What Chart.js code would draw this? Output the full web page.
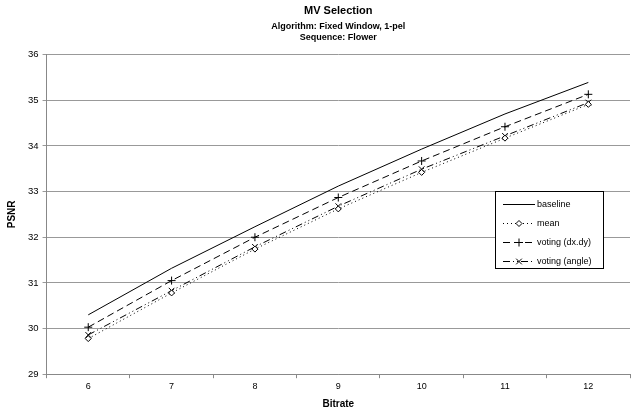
<!DOCTYPE html>
<html>
<head>
<meta charset="utf-8">
<script src="https://cdn.jsdelivr.net/npm/chart.js@4/dist/chart.umd.min.js"></script>
<style>
  body { margin: 0; background: #fff; }
  canvas { display: block; }
</style>
</head>
<body>
<canvas id="myChart" width="636" height="417"></canvas>
<script>
// data
const bitrates = ["6", "7", "8", "9", "10", "11", "12"];
const baseline = [30.3, 31.32, 32.23, 33.12, 33.93, 34.7, 35.39];
const meanVals = [29.78, 30.78, 31.74, 32.62, 33.42, 34.17, 34.91];
const votingDxDy = [30.03, 31.05, 32.0, 32.87, 33.67, 34.42, 35.13];
const votingAngle = [29.86, 30.83, 31.79, 32.68, 33.49, 34.22, 34.95];
const psnrTicks = [29, 30, 31, 32, 33, 34, 35, 36];

const font = "'Liberation Sans', Arial, sans-serif";

// legend box drawn inside the plot, like the original
const boxLegend = {
  id: "boxLegend",
  afterDraw(chart) {
    const ctx = chart.ctx;
    const x0 = 495, y0 = 191, w = 108, h = 77;
    ctx.save();
    ctx.fillStyle = "#fff";
    ctx.fillRect(x0, y0, w, h);
    ctx.strokeStyle = "#000";
    ctx.lineWidth = 1;
    ctx.strokeRect(x0 + 0.5, y0 + 0.5, w, h);
    chart.data.datasets.forEach((ds, i) => {
      const y = y0 + 13 + i * 19;
      ctx.beginPath();
      ctx.setLineDash(ds.borderDash || []);
      ctx.strokeStyle = "#000";
      ctx.lineWidth = 1;
      ctx.moveTo(503, y + 0.5);
      ctx.lineTo(535, y + 0.5);
      ctx.stroke();
      ctx.setLineDash([]);
      if (ds.pointRadius > 0) {
        ctx.fillStyle = ds.pointBackgroundColor;
        ctx.strokeStyle = "#000";
        Chart.helpers.drawPoint(ctx, {
          pointStyle: ds.pointStyle,
          radius: ds.pointRadius,
          borderWidth: 1
        }, 519, y + 0.5);
      }
      ctx.fillStyle = "#000";
      ctx.font = "9px " + font;
      ctx.textBaseline = "middle";
      ctx.fillText(ds.label, 537, y + 1);
    });
    ctx.restore();
  }
};

const whiteBg = {
  id: "whiteBg",
  beforeDraw(chart) {
    const ctx = chart.ctx;
    ctx.save();
    ctx.fillStyle = "#fff";
    ctx.fillRect(0, 0, chart.width, chart.height);
    ctx.restore();
  }
};

const ctx = document.getElementById("myChart").getContext("2d");
const myChart = new Chart(ctx, {
  type: "line",
  data: {
    labels: bitrates,
    datasets: [
      {
        label: "baseline",
        data: baseline,
        borderColor: "#000",
        borderWidth: 1,
        pointRadius: 0,
        pointStyle: false
      },
      {
        label: "mean",
        data: meanVals,
        borderColor: "#000",
        borderWidth: 1,
        borderDash: [1, 3],
        pointStyle: "rectRot",
        pointRadius: 3,
        pointBackgroundColor: "#fff",
        pointBorderColor: "#000",
        pointBorderWidth: 1
      },
      {
        label: "voting (dx.dy)",
        data: votingDxDy,
        borderColor: "#000",
        borderWidth: 1,
        borderDash: [7, 4],
        pointStyle: "cross",
        pointRadius: 4,
        pointBackgroundColor: "#000",
        pointBorderColor: "#000",
        pointBorderWidth: 1
      },
      {
        label: "voting (angle)",
        data: votingAngle,
        borderColor: "#000",
        borderWidth: 1,
        borderDash: [7, 3, 1, 3, 1, 3],
        pointStyle: "crossRot",
        pointRadius: 4,
        pointBackgroundColor: "#000",
        pointBorderColor: "#000",
        pointBorderWidth: 1
      }
    ]
  },
  options: {
    responsive: false,
    animation: false,
    layout: { padding: { left: 6, right: 6, top: 4, bottom: 7 } },
    plugins: {
      legend: { display: false },
      tooltip: { enabled: false },
      title: {
        display: true,
        text: "MV Selection",
        fullSize: false,
        color: "#000",
        font: { family: font, size: 11, weight: "bold" },
        padding: { top: 0, bottom: 3 }
      },
      subtitle: {
        display: true,
        text: ["Algorithm: Fixed Window, 1-pel", "Sequence: Flower"],
        fullSize: false,
        color: "#000",
        font: { family: font, size: 9, weight: "bold", lineHeight: 1.3 },
        padding: { top: 0, bottom: 11 }
      }
    },
    scales: {
      x: {
        type: "category",
        offset: true,
        grid: {
          offset: true,
          drawOnChartArea: false,
          drawTicks: true,
          tickLength: 4,
          color: "#888"
        },
        border: { color: "#888" },
        ticks: { color: "#000", font: { family: font, size: 9 }, padding: 3 },
        title: {
          display: true,
          text: "Bitrate",
          color: "#000",
          font: { family: font, size: 10, weight: "bold" },
          padding: { top: 3, bottom: 0 }
        }
      },
      y: {
        min: 29,
        max: 36,
        afterBuildTicks(scale) {
          scale.ticks = psnrTicks.map(v => ({ value: v }));
        },
        grid: { color: "#999", tickLength: 4 },
        border: { color: "#888" },
        ticks: { color: "#000", font: { family: font, size: 9.5 }, padding: 4 },
        title: {
          display: true,
          text: "PSNR",
          color: "#000",
          font: { family: font, size: 10, weight: "bold" },
          padding: { top: 0, bottom: 6 }
        }
      }
    }
  },
  plugins: [whiteBg, boxLegend]
});
</script>
</body>
</html>
